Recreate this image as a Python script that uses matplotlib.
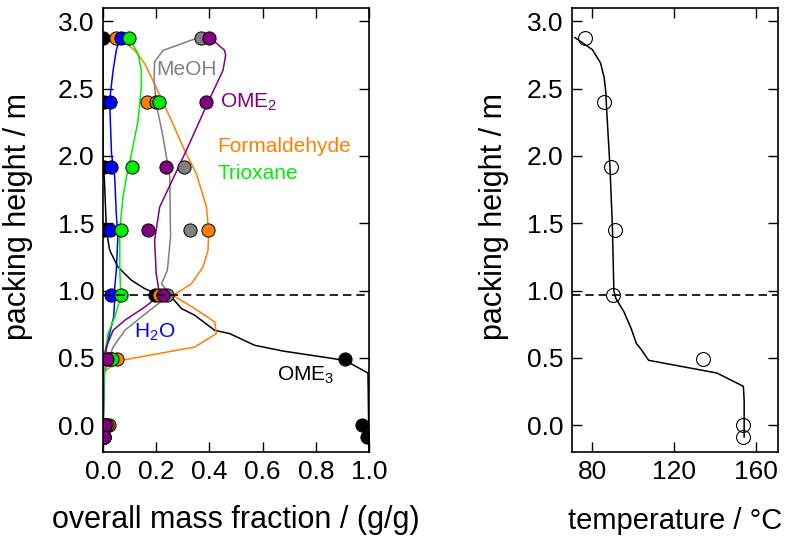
import numpy as np
import matplotlib
matplotlib.use("Agg")
import matplotlib.pyplot as plt

plt.rcParams['font.family'] = ['Liberation Sans', 'DejaVu Sans']
plt.rcParams['mathtext.fontset'] = 'custom'
plt.rcParams['mathtext.rm'] = 'Liberation Sans'

nan = np.nan

# measured heights of the sample points (m)
h_pts = [2.88, 2.40, 1.92, 1.45, 0.97, 0.49, 0.0, -0.09]

# measured mass fractions (g/g)
ome3_pts = [0.0, 0.005, 0.005, 0.005, 0.197, 0.91, 0.975, 0.993]
form_pts = [0.05, 0.167, nan, 0.395, 0.21, 0.054, 0.022, 0.004]
meoh_pts = [0.367, 0.198, 0.305, 0.326, 0.242, 0.03, 0.015, 0.004]
h2o_pts = [0.067, 0.025, 0.03, 0.028, 0.03, 0.02, 0.004, 0.004]
triox_pts = [0.097, 0.21, 0.11, 0.069, 0.069, 0.035, 0.008, 0.004]
ome2_pts = [0.40, 0.386, 0.238, 0.17, 0.226, 0.015, 0.006, 0.005]

# simulated profiles
ome3_x = [0, 0, 0.006, 0.013, 0.025, 0.056, 0.107, 0.157, 0.2, 0.257, 0.295, 0.345,
          0.42, 0.476, 0.57, 0.677, 0.802, 0.909, 0.996, 1.0]
ome3_y = [2.88, 2.0, 1.79, 1.447, 1.30, 1.175, 1.076, 1.014, 0.977, 0.952, 0.866, 0.816,
          0.704, 0.68, 0.593, 0.55, 0.513, 0.481, 0.387, -0.19]

form_x = [0.05, 0.069, 0.119, 0.157, 0.2, 0.257, 0.307, 0.351, 0.389, 0.397, 0.395,
          0.376, 0.332, 0.263, 0.345, 0.42, 0.426, 0.345, 0.069, 0.0, 0.0]
form_y = [2.88, 2.87, 2.785, 2.686, 2.51, 2.264, 2.04, 1.868, 1.62, 1.447, 1.30,
          1.175, 1.05, 0.964, 0.866, 0.766, 0.68, 0.58, 0.481, 0.395, -0.09]

meoh_x = [0.364, 0.226, 0.194, 0.192, 0.2, 0.226, 0.251, 0.254, 0.242, 0.22, 0.25,
          0.232, 0.144, 0.082, 0.038, 0.019, 0.006, 0.0]
meoh_y = [2.883, 2.785, 2.70, 2.56, 2.388, 2.14, 1.843, 1.40, 1.15, 1.05, 0.977,
          0.94, 0.803, 0.704, 0.58, 0.481, 0.383, -0.09]

ome2_x = [0.40, 0.457, 0.461, 0.451, 0.395, 0.313, 0.275, 0.213, 0.194, 0.2, 0.213,
          0.157, 0.082, 0.038, 0.013, 0.0, 0.0]
ome2_y = [2.883, 2.785, 2.747, 2.636, 2.40, 2.04, 1.88, 1.62, 1.373, 1.126, 0.964,
          0.877, 0.779, 0.704, 0.58, 0.457, -0.09]

triox_x = [0.097, 0.1, 0.132, 0.144, 0.144, 0.132, 0.107, 0.088, 0.075, 0.063, 0.063,
           0.067, 0.063, 0.044, 0.019, 0.006, 0.0]
triox_y = [2.88, 2.87, 2.76, 2.636, 2.51, 2.264, 2.017, 1.843, 1.695, 1.447, 1.15,
           0.977, 0.927, 0.803, 0.68, 0.53, -0.09]

h2o_x = [0.067, 0.063, 0.05, 0.038, 0.025, 0.032, 0.044, 0.05, 0.056, 0.05, 0.042,
         0.044, 0.04, 0.019, 0.006, 0.0]
h2o_y = [2.88, 2.87, 2.785, 2.636, 2.413, 2.017, 1.843, 1.571, 1.397, 1.15, 0.977,
         0.927, 0.803, 0.63, 0.506, -0.09]

# temperature profile
T_pts = [76.6, 85.9, 88.9, 91.2, 90.0, 134.0, 153.8, 153.8]
T_line = [71.4, 80, 84, 85.7, 86.5, 87, 88.6, 89.8, 90.5, 91.4, 95.5, 99, 101.6,
          103.6, 107.6, 141, 154, 154.4, 154.4]
hT_line = [2.88, 2.79, 2.69, 2.586, 2.487, 2.339, 1.918, 1.472, 1.0, 0.944, 0.84,
           0.717, 0.605, 0.568, 0.481, 0.387, 0.288, 0.184, -0.088]

feed_height = 0.965

ORANGE = '#ff7f00'
GRAY = '#808080'
BLUE = '#0000ff'
GREEN = '#00ee00'
PURPLE = '#800080'

fig = plt.figure(figsize=(7.85, 5.38), dpi=100)
ax1 = fig.add_axes([0.1312, 0.1599, 0.3389, 0.8253])
ax2 = fig.add_axes([0.7287, 0.1599, 0.2624, 0.8253])

lw = 1.1
ax1.plot(ome3_x, ome3_y, color='black', lw=lw)
ax1.plot(form_x, form_y, color=ORANGE, lw=lw)
ax1.plot(meoh_x, meoh_y, color=GRAY, lw=lw)
ax1.plot(h2o_x, h2o_y, color=BLUE, lw=lw)
ax1.plot(triox_x, triox_y, color=GREEN, lw=lw)
ax1.plot(ome2_x, ome2_y, color=PURPLE, lw=lw)

mk = dict(ls='none', marker='o', ms=9.5, mec='black', mew=0.7)
ax1.plot(ome3_pts, h_pts, mfc='black', **mk)
ax1.plot(form_pts, h_pts, mfc=ORANGE, **mk)
ax1.plot(meoh_pts, h_pts, mfc=GRAY, **mk)
ax1.plot(h2o_pts, h_pts, mfc=BLUE, **mk)
ax1.plot(triox_pts, h_pts, mfc=GREEN, **mk)
ax1.plot(ome2_pts, h_pts, mfc=PURPLE, **mk)

ax1.axhline(feed_height, color='black', ls=(0, (5, 3)), lw=1.2)

fs_in = 15
ax1.text(0.20, 2.64, 'MeOH', color=GRAY, fontsize=fs_in, va='center')
ax1.text(0.44, 2.40, 'OME$_2$', color=PURPLE, fontsize=fs_in, va='center')
ax1.text(0.43, 2.07, 'Formaldehyde', color=ORANGE, fontsize=fs_in, va='center')
ax1.text(0.43, 1.87, 'Trioxane', color=GREEN, fontsize=fs_in, va='center')
ax1.text(0.115, 0.69, 'H$_2$O', color=BLUE, fontsize=fs_in, va='center')
ax1.text(0.655, 0.37, 'OME$_3$', color='black', fontsize=fs_in, va='center')

ax1.set_xlim(0, 1.0)
ax1.set_ylim(-0.2, 3.1)
ax1.set_xticks(np.arange(0, 1.01, 0.2))
ax1.set_xticklabels(['0.0', '0.2', '0.4', '0.6', '0.8', '1.0'])
ax1.set_yticks(np.arange(0, 3.01, 0.5))
ax1.set_xlabel('overall mass fraction / (g/g)', fontsize=22, labelpad=15)
ax1.set_ylabel('packing height / m', fontsize=22, labelpad=18)

ax2.plot(T_line, hT_line, color='black', lw=lw)
ax2.plot(T_pts, h_pts, ls='none', marker='o', ms=10, mfc='none', mec='black', mew=0.8)
ax2.axhline(feed_height, color='black', ls=(0, (5, 3)), lw=1.2)
ax2.set_xlim(70, 171)
ax2.set_ylim(-0.2, 3.1)
ax2.set_xticks([80, 120, 160])
ax2.set_yticks(np.arange(0, 3.01, 0.5))
ax2.set_xlabel('temperature / °C', fontsize=21, labelpad=16)
ax2.set_ylabel('packing height / m', fontsize=22, labelpad=13)

for ax in (ax1, ax2):
    ax.tick_params(direction='in', length=7, width=1, labelsize=19,
                   top=True, right=True, pad=6)
    for s in ax.spines.values():
        s.set_linewidth(1.2)
    ax.yaxis.set_major_formatter(matplotlib.ticker.FormatStrFormatter('%.1f'))
    ax.yaxis.label.set_y(0.53)

fig.savefig('out.png', dpi=100)
